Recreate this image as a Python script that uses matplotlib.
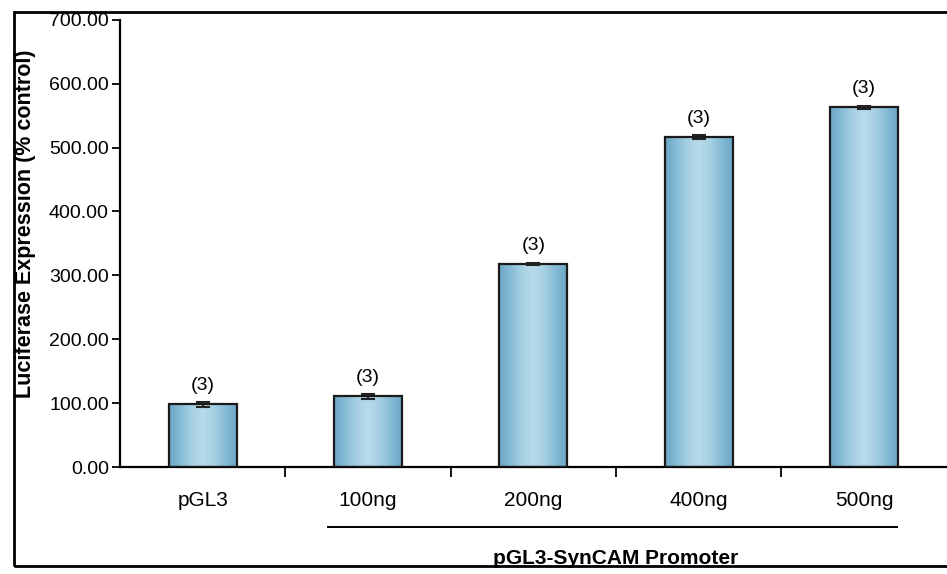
import matplotlib
matplotlib.use("Agg")
import matplotlib.pyplot as plt
import numpy as np
from matplotlib.patches import Rectangle
from matplotlib.lines import Line2D
from matplotlib.colors import LinearSegmentedColormap

categories = ["pGL3", "100ng", "200ng", "400ng", "500ng"]
values = [98.0, 111.0, 318.0, 517.0, 563.0]
errors = [4.0, 4.0, 2.0, 3.0, 2.0]
n_labels = ["(3)", "(3)", "(3)", "(3)", "(3)"]
yticks = [0, 100, 200, 300, 400, 500, 600, 700]
group_label = "pGL3-SynCAM Promoter"
ylabel = "Luciferase Expression (% control)"

plt.rcParams['font.family'] = ['Liberation Sans', 'DejaVu Sans']

fig = plt.figure(figsize=(9.47, 5.74), dpi=100)
ax = fig.add_axes([0.1267, 0.1864, 0.873, 0.779])

x = np.arange(len(categories))
width = 0.41
bars = ax.bar(x, values, width=width, color='none', edgecolor='#1a1a1a', linewidth=1.6, zorder=3)

cmap = LinearSegmentedColormap.from_list('g', ['#6aa7c6', '#86bbd6', '#a6d0e3', '#b8dbeb',
                                              '#a6d0e3', '#86bbd6', '#6aa7c6'])
grad = np.tile(np.linspace(0, 1, 256), (64, 1))
for b in bars:
    x0, y0 = b.get_x(), b.get_y()
    w, h = b.get_width(), b.get_height()
    im = ax.imshow(grad, cmap=cmap, extent=[x0, x0 + w, y0, y0 + h], aspect='auto', zorder=2,
                   interpolation='bicubic')
    im.set_clip_path(b)

ax.errorbar(x, values, yerr=errors, fmt='none', ecolor='#222222', elinewidth=1.5, capsize=5, capthick=1.5, zorder=4)

for xi, v, t in zip(x, values, n_labels):
    ax.text(xi, v + 16, t, ha='center', va='bottom', fontsize=14)

ax.set_xlim(-0.5, 4.5)
ax.set_ylim(0, 700)
ax.set_yticks(yticks)
ax.set_yticklabels([f"{t:.2f}" for t in yticks], fontsize=14)
ax.set_xticks(x)
ax.set_xticklabels(categories, fontsize=15)
ax.tick_params(axis='x', which='major', length=0, pad=17)
ax.set_xticks(np.arange(0.5, 4.0, 1.0), minor=True)
ax.tick_params(axis='x', which='minor', length=7, width=1.3, direction='out')
ax.tick_params(axis='y', length=6, width=1.3, direction='out', pad=2)
for s in ['top', 'right']:
    ax.spines[s].set_visible(False)
for s in ['left', 'bottom']:
    ax.spines[s].set_linewidth(1.6)

ax.set_ylabel(ylabel, fontsize=15.5, fontweight='bold')
ax.yaxis.set_label_coords(-0.1015, 0.545)

# group line and label beneath
ax.add_line(Line2D([0.76, 4.2], [-0.135, -0.135], transform=ax.get_xaxis_transform(),
                   color='black', linewidth=1.4, clip_on=False))
ax.text(2.5, -0.205, group_label, transform=ax.get_xaxis_transform(), ha='center', va='center',
        fontsize=15, fontweight='bold')

# outer frame
fig.patches.append(Rectangle((14 / 947, 8 / 574), 1.0, 1 - 8 / 574 - 12 / 574, transform=fig.transFigure,
                             fill=False, edgecolor='black', linewidth=2.0, zorder=0))

fig.savefig('out.png', dpi=100)
